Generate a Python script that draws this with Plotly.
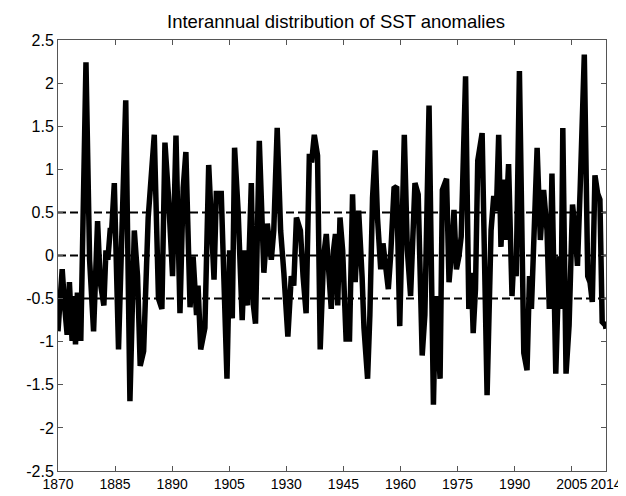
import plotly.graph_objects as go

years = [1870.0, 1871.1, 1871.8, 1872.4, 1873.0, 1873.7, 1874.2, 1874.6, 1875.1, 1875.6,
         1876.0, 1877.35, 1878.3, 1879.35, 1880.4, 1881.1, 1882.05, 1882.6, 1883.1, 1883.7,
         1884.1, 1884.8, 1885.9, 1887.8, 1888.9, 1890.05, 1890.9, 1891.6, 1892.5, 1893.7,
         1895.3, 1896.4, 1897.3, 1898.1, 1899.0, 1900.1, 1901.0, 1902.05, 1902.9, 1903.6,
         1904.7, 1905.5, 1906.4, 1906.8, 1907.5, 1908.6, 1909.6, 1911.0, 1911.6, 1912.9,
         1914.4, 1915.1, 1915.8, 1916.4, 1917.35, 1918.4, 1919.1, 1919.8, 1920.8, 1921.35,
         1921.9, 1922.9, 1924.1, 1925.0, 1926.05, 1926.7, 1927.6, 1928.5, 1929.35, 1930.4,
         1931.3, 1931.95, 1932.65, 1933.7, 1934.4, 1935.2, 1936.05, 1936.65, 1937.35, 1938.2,
         1938.9, 1939.8, 1940.5, 1941.3, 1941.8, 1942.4, 1942.9, 1943.5, 1944.1, 1944.8,
         1945.7, 1946.6, 1947.4, 1948.1, 1949.0, 1949.9, 1950.4, 1951.35, 1951.95, 1952.65,
         1953.35, 1953.95, 1954.8, 1955.4, 1956.8, 1957.4, 1958.3, 1959.0, 1959.8, 1961.0,
         1961.8, 1962.65, 1963.8, 1964.65, 1965.7, 1966.4, 1967.5, 1968.65, 1969.25, 1970.4,
         1971.0, 1972.1, 1972.75, 1973.6, 1974.05, 1974.7, 1975.35, 1975.95, 1977.1, 1977.95,
         1978.6, 1979.1, 1979.7, 1980.3, 1981.45, 1982.75, 1983.8, 1984.5, 1985.2, 1985.8,
         1986.4, 1987.1, 1987.5, 1988.4, 1989.3, 1989.8, 1990.4, 1991.25, 1992.4, 1993.25,
         1993.9, 1994.4, 1995.0, 1995.9, 1996.75, 1997.6, 1998.5, 1999.1, 1999.8, 2000.8,
         2001.7, 2002.2, 2002.65, 2003.5, 2004.3, 2005.2, 2005.9, 2006.5, 2007.2, 2008.3,
         2009.2, 2009.8, 2010.4, 2011.1, 2011.8, 2012.4, 2013.0, 2013.85, 2014.0]

sst_anomaly = [-0.88, -0.16, -0.62, -0.92, -0.31, -0.99, -0.47, -1.03, -0.43, -0.96,
               -0.96, 2.24, -0.05, -0.88, 0.40, -0.31, -0.58, 0.06, -0.05, 0.29,
               0.29, 0.84, -1.09, 1.80, -1.69, 0.29, -0.24, -1.28, -1.11, 0.44,
               1.40, -0.50, -0.62, 1.31, 0.71, -0.24, 1.39, -0.67, 0.78, 1.20,
               -0.60, -0.01, -0.69, -0.35, -1.09, -0.84, 1.05, -0.28, 0.72, 0.72,
               -1.43, 0.06, -0.73, 1.25, 0.50, -0.75, 0.06, -0.58, 0.84, -0.58,
               -0.79, 1.33, -0.20, 0.37, -0.05, 0.29, 1.48, 0.29, -0.20, -0.94,
               -0.24, -0.35, 0.44, 0.29, -0.24, -0.67, 1.18, 1.08, 1.40, 1.16,
               -1.09, -0.01, 0.25, -0.47, -0.62, 0.06, 0.25, -0.58, 0.44, 0.06,
               -0.97, -0.97, 0.71, -0.31, 0.52, -0.24, -0.84, -1.43, -0.69, 0.67,
               1.22, 0.44, -0.16, 0.14, -0.39, -0.01, 0.78, 0.80, -0.82, 1.40,
               0.06, -0.47, 0.84, 0.71, -1.16, -0.69, 1.74, -1.73, -0.47, -1.43,
               0.76, 0.89, -0.31, 0.14, 0.53, -0.16, -0.01, 0.22, 2.08, -0.62,
               -0.20, -0.90, -0.39, 1.10, 1.42, -1.62, 0.29, 0.69, 0.52, 1.40,
               0.10, 0.88, 0.18, 1.06, -0.47, -0.01, -0.24, 2.14, -1.13, -1.33,
               -0.24, -0.62, 0.10, 1.25, 0.18, 0.76, 0.29, -0.62, 0.95, -1.37,
               -0.01, -0.62, 1.48, -1.37, -0.81, 0.59, 0.29, -0.12, 0.76, 2.33,
               -0.24, -0.31, -0.54, 0.93, 0.72, 0.65, -0.77, -0.81, -0.85]

thresholds = [0.5, 0.0, -0.5]

x_tick_vals = [1870, 1885, 1900, 1915, 1930, 1945, 1960, 1975, 1990, 2005, 2014]
x_tick_text = ["1870", "1885", "1890", "1905", "1930", "1945", "1960", "1975", "1990", "2005", "2014"]
y_tick_vals = [-2.5, -2, -1.5, -1, -0.5, 0, 0.5, 1, 1.5, 2, 2.5]
y_tick_text = ["-2.5", "-2", "-1.5", "-1", "-0.5", "0", "0.5", "1", "1.5", "2", "2.5"]

fig = go.Figure()

for t in thresholds:
    fig.add_trace(go.Scatter(
        x=[years[0], years[-1]], y=[t, t], mode="lines",
        line=dict(color="black", width=2, dash="8px,4px"),
        hoverinfo="skip", showlegend=False))

fig.add_trace(go.Scatter(
    x=years, y=sst_anomaly, mode="lines",
    line=dict(color="black", width=5.5),
    showlegend=False))

axis_color = "#555555"
fig.update_layout(
    width=626, height=496,
    margin=dict(l=50, r=23, t=32, b=23),
    paper_bgcolor="white", plot_bgcolor="white",
    font=dict(family="Liberation Sans, Arial, sans-serif", color="black"),
    title=dict(text="Interannual distribution of SST anomalies",
               x=0.524, xanchor="center", y=1 - 14 / 496, yref="container",
               yanchor="middle", font=dict(size=18.5, color="black")),
)
fig.update_xaxes(
    range=[1870, 2014], tickmode="array", tickvals=x_tick_vals, ticktext=x_tick_text,
    ticks="inside", ticklen=5, tickcolor=axis_color, showline=True, linecolor=axis_color,
    linewidth=1, mirror="ticks", showgrid=False, zeroline=False,
    tickfont=dict(size=14, color="black"))
fig.update_yaxes(
    range=[-2.5, 2.5], tickmode="array", tickvals=y_tick_vals, ticktext=y_tick_text,
    ticks="inside", ticklen=5, tickcolor=axis_color, showline=True, linecolor=axis_color,
    linewidth=1, mirror="ticks", showgrid=False, zeroline=False,
    tickfont=dict(size=16, color="black"))

fig.write_html("out.html")
